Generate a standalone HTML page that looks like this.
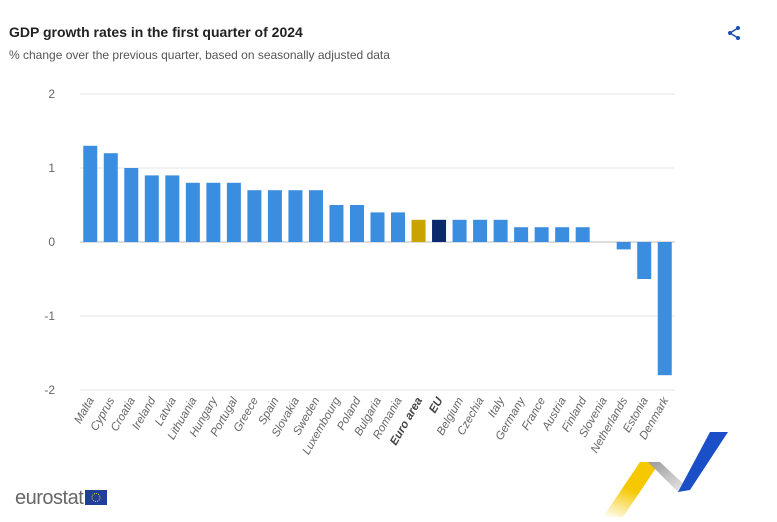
<!DOCTYPE html>
<html><head><meta charset="utf-8"><style>
body{margin:0;width:777px;height:521px;background:#fff;font-family:"Liberation Sans",sans-serif;overflow:hidden;position:relative}
#title{position:absolute;left:9px;top:24px;font-size:14px;font-weight:bold;color:#222}
#sub{position:absolute;left:9px;top:48px;font-size:12px;color:#555}
#share{position:absolute;left:726px;top:25px}
#logo{position:absolute;left:15px;top:487px;font-size:20px;color:#666;letter-spacing:-0.5px}
</style></head><body>
<div id="title">GDP growth rates in the first quarter of 2024</div>
<div id="sub">% change over the previous quarter, based on seasonally adjusted data</div>
<svg id="share" width="16" height="16" viewBox="0 0 16 16"><circle cx="12" cy="3" r="2" fill="#1a4fb8"/><circle cx="4" cy="8" r="2" fill="#1a4fb8"/><circle cx="12" cy="13" r="2" fill="#1a4fb8"/><path d="M12 3L4 8L12 13" stroke="#1a4fb8" stroke-width="1.5" fill="none"/></svg>
<svg id="chart" width="777" height="521" style="position:absolute;left:0;top:0"></svg>
<div id="logo">eurostat<svg width="22" height="15" style="vertical-align:-1px;margin-left:2px"><rect width="22" height="15" fill="#1f3f9a"/><circle cx="11" cy="7.5" r="4" fill="none" stroke="#f5d000" stroke-width="1" stroke-dasharray="1 1.1"/></svg></div>
<svg width="140" height="90" style="position:absolute;left:598px;top:432px">
<defs><linearGradient id="g1" x1="0" y1="1" x2="0.4" y2="0"><stop offset="0" stop-color="#fff"/><stop offset="0.6" stop-color="#f5c800"/></linearGradient>
<linearGradient id="g2" x1="0" y1="0" x2="1" y2="1"><stop offset="0" stop-color="#999"/><stop offset="1" stop-color="#eee"/></linearGradient></defs>
<polygon points="5,85 42,30 62,30 25,85" fill="url(#g1)"/>
<polygon points="62,30 92,58 80,60 50,30" fill="url(#g2)"/>
<polygon points="80,60 112,0 130,0 92,58" fill="#1a4fc8"/>
</svg>
<script>
const categories=["Malta","Cyprus","Croatia","Ireland","Latvia","Lithuania","Hungary","Portugal","Greece","Spain","Slovakia","Sweden","Luxembourg","Poland","Bulgaria","Romania","Euro area","EU","Belgium","Czechia","Italy","Germany","France","Austria","Finland","Slovenia","Netherlands","Estonia","Denmark"];
const values=[1.3,1.2,1.0,0.9,0.9,0.8,0.8,0.8,0.7,0.7,0.7,0.7,0.5,0.5,0.4,0.4,0.3,0.3,0.3,0.3,0.3,0.2,0.2,0.2,0.2,0.0,-0.1,-0.5,-1.8];
const yTicks=[2,1,0,-1,-2];
const NS="http://www.w3.org/2000/svg";
const svg=document.getElementById('chart');
const x0=80,x1=675,step=(x1-x0)/categories.length;
const xC=i=>x0+step*(i+0.5);
const y=v=>242-v*74;
function mk(t,a){const e=document.createElementNS(NS,t);for(const k in a)e.setAttribute(k,a[k]);svg.appendChild(e);return e;}
yTicks.forEach(t=>{
 const l=mk('line',{x1:x0,x2:x1,y1:y(t),y2:y(t),stroke:t===0?'#bbb':'#e6e6e6','stroke-width':1});
 
 
 const tx=mk('text',{x:55,y:y(t)+4,'text-anchor':'end','font-size':12,fill:'#666'});
 tx.textContent=String(t);
 
 
});
categories.forEach((c,i)=>{
 const v=values[i];
 const col=c==="Euro area"?'#c9a400':c==="EU"?'#0b2a6e':'#3b8de0';
 const r=mk('rect',{x:xC(i)-7,y:Math.min(y(v),y(0)),width:14,height:Math.abs(y(v)-y(0)),fill:col});
 
 
 const bold=(c==="Euro area"||c==="EU");
 const t=mk('text',{x:xC(i)+4,y:400,'text-anchor':'end','font-size':11.5,fill:bold?'#444':'#666','font-weight':bold?'bold':'normal','font-style':'italic',transform:`rotate(-60 ${xC(i)+4} 400)`});
 t.textContent=c;
 
 
});
</script>
</body></html>
